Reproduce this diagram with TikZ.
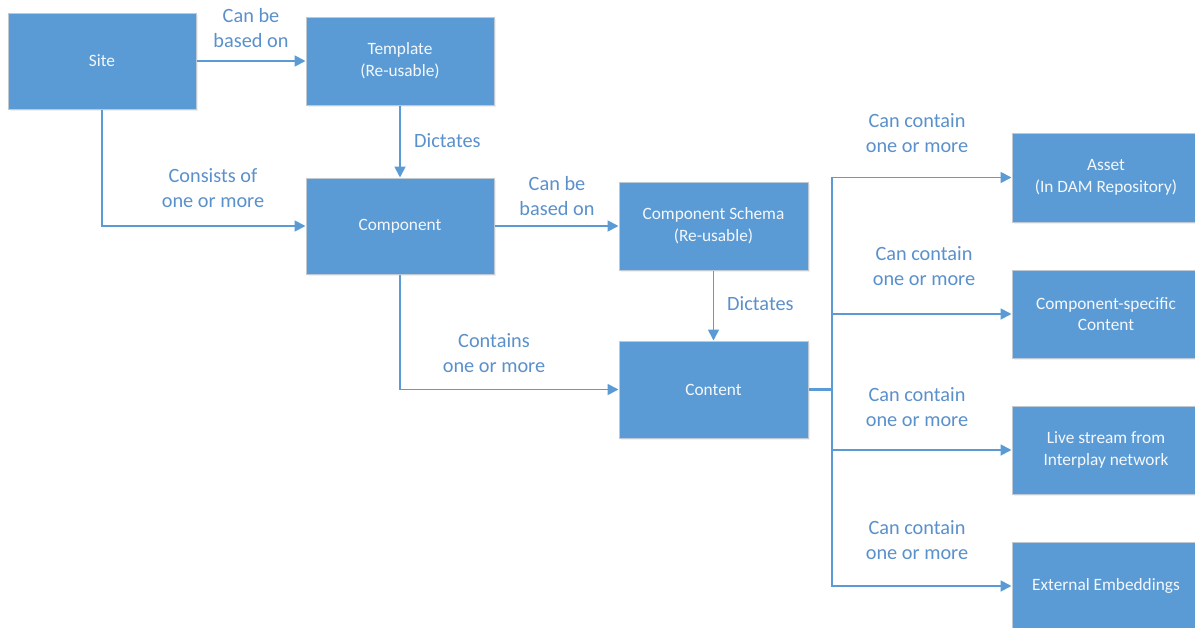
\documentclass[tikz,border=0pt]{standalone}
\usepackage{fontspec}
\setmainfont{Carlito}
\usetikzlibrary{arrows.meta,shadows}
\definecolor{boxblue}{HTML}{5B9BD5}
\definecolor{boxedge}{HTML}{BFC9D4}
\definecolor{linkblue}{HTML}{5B9BD5}
\definecolor{labelblue}{HTML}{5A90CB}
\definecolor{boxtext}{HTML}{F4F8FC}
\begin{document}
\begin{tikzpicture}[x=1pt,y=-1pt,
  entity/.style={rectangle, fill=boxblue, draw=boxedge, line width=1pt,
    minimum width=188pt, minimum height=88pt, inner sep=0pt,
    align=center, text=boxtext, font=\fontsize{17.3}{21.7}\selectfont,
    drop shadow={opacity=0.12, shadow xshift=2pt, shadow yshift=-2pt}},
  link/.style={draw=linkblue, line width=1.8pt,
    -{Triangle[length=11pt,width=11pt]}},
  wire/.style={draw=linkblue, line width=2.2pt},
  note/.style={align=center, text=labelblue, inner sep=0pt,
    font=\fontsize{20.3}{25}\selectfont}]
  \useasboundingbox (0,0) rectangle (1195,627);

  % boxes
  \node[entity, minimum height=96pt] (site) at (102,61) {Site};
  \node[entity] (tmpl) at (400,61) {Template\\(Re-usable)};
  \node[entity, minimum height=96pt] (comp) at (400,226) {Component};
  \node[entity, minimum width=189pt] (schema) at (713.5,226) {Component Schema\\(Re-usable)};
  \node[entity, minimum width=189pt, minimum height=97pt] (content) at (713.5,389.5) {Content};
  \node[entity, minimum height=89pt] (asset) at (1106,177.5) {Asset\\(In DAM Repository)};
  \node[entity] (specific) at (1106,314) {Component-specific\\Content};
  \node[entity] (live) at (1106,450) {Live stream from\\Interplay network};
  \node[entity] (ext) at (1106,586) {External Embeddings};

  % branch point to the right of Content
  \coordinate (bus) at (832,389.5);

  % connectors
  \draw[link] (site.east) -- (tmpl.west);
  \draw[link] (site.south) |- (comp.west);
  \draw[link] (tmpl.south) -- (comp.north);
  \draw[link] (comp.east) -- (schema.west);
  \draw[link] (comp.south) |- (content.west);
  \draw[link] (schema.south) -- (content.north);
  \draw[wire] (content.east) -- (bus);
  \draw[link] (bus) |- (asset.west);
  \draw[link] (bus) |- (specific.west);
  \draw[link] (bus) |- (live.west);
  \draw[link] (bus) |- (ext.west);

  % connector labels
  \node[note] (l1) at (251,28) {Can be\\based on};
  \node[note, anchor=west] (l2) at (414,141) {Dictates};
  \node[note] (l3) at (213,188) {Consists of\\one or more};
  \node[note] (l4) at (557,196) {Can be\\based on};
  \node[note] (l5) at (494,353) {Contains\\one or more};
  \node[note, anchor=west] (l6) at (727,304) {Dictates};
  \node[note] (l7) at (917,133) {Can contain\\one or more};
  \node[note] (l8) at (924,266) {Can contain\\one or more};
  \node[note] (l9) at (917,407) {Can contain\\one or more};
  \node[note] (l10) at (917,540) {Can contain\\one or more};
\end{tikzpicture}
\end{document}
